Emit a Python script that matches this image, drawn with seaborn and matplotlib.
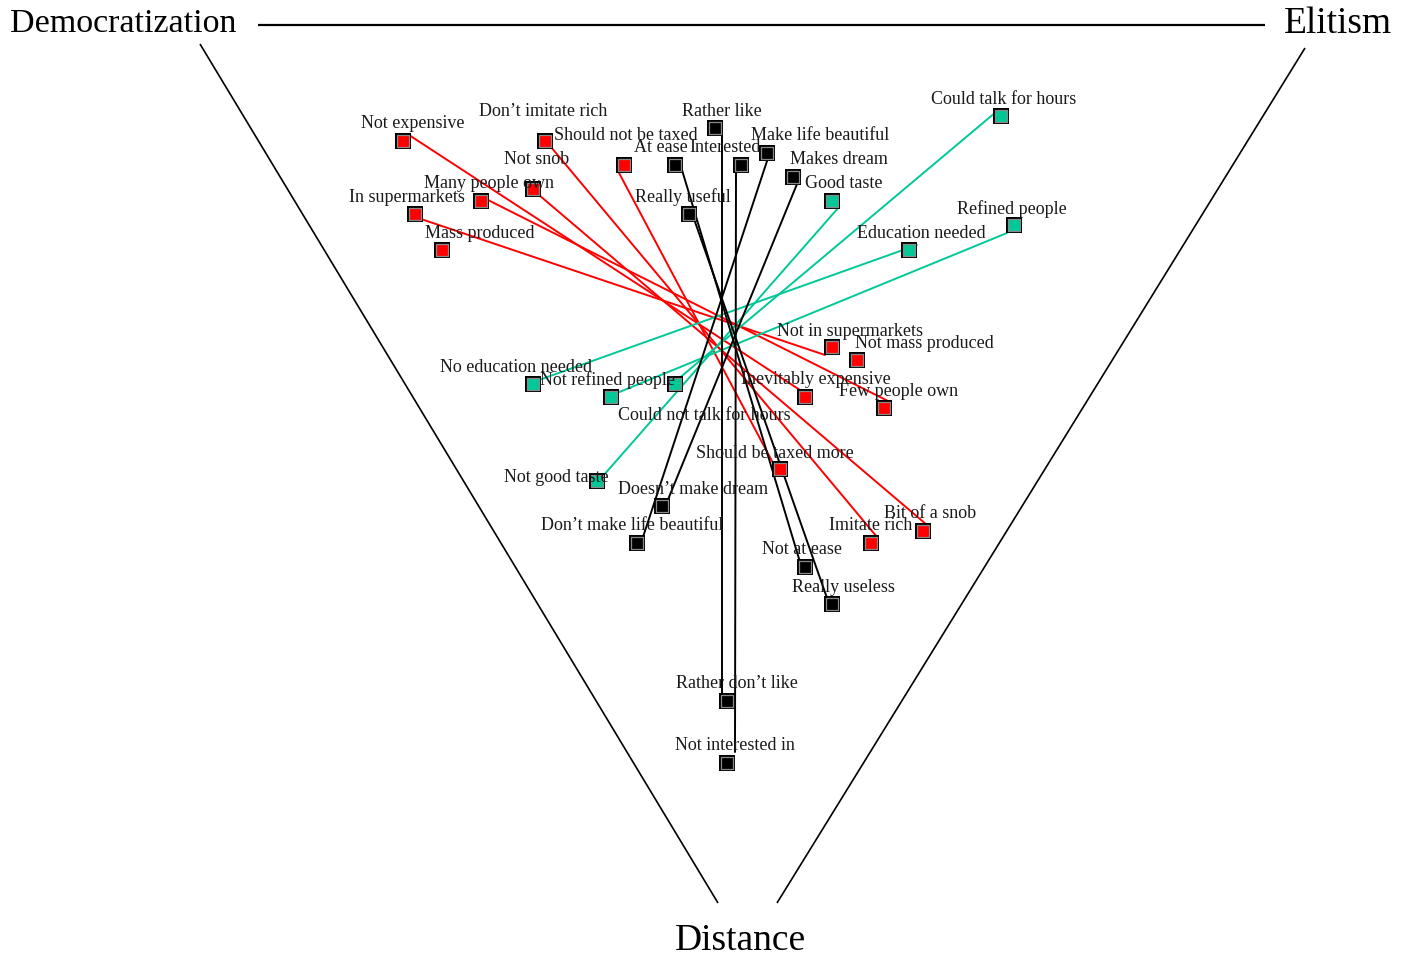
import matplotlib
matplotlib.use("Agg")
import matplotlib.pyplot as plt
import numpy as np
import pandas as pd
import seaborn as sns

# ---------------- data ----------------
labels = [
    "Not expensive", "Don\u2019t imitate rich", "Should not be taxed", "Not snob",
    "Many people own", "In supermarkets", "Mass produced", "Not in supermarkets",
    "Not mass produced", "Inevitably expensive", "Few people own",
    "Should be taxed more", "Imitate rich", "Bit of a snob",
    "Could talk for hours", "Good taste", "Refined people", "Education needed",
    "No education needed", "Not refined people", "Could not talk for hours",
    "Not good taste",
    "Rather like", "At ease", "Interested", "Make life beautiful", "Makes dream",
    "Really useful", "Doesn\u2019t make dream", "Don\u2019t make life beautiful",
    "Not at ease", "Really useless", "Rather don\u2019t like", "Not interested in",
]
groups = (["Democratization"] * 14) + (["Elitism"] * 8) + (["Distance"] * 12)

# displayed square markers
x = [-3.22, -1.80, -1.01, -1.92, -2.44, -3.10, -2.83, 1.07, 1.32, 0.80, 1.59, 0.55, 1.46, 1.98,
     2.76, 1.07, 2.89, 1.84, -1.92, -1.14, -0.50, -1.28,
     -0.10, -0.50, 0.16, 0.42, 0.68, -0.36, -0.63, -0.88, 0.80, 1.07, 0.02, 0.02]
y = [1.79, 1.79, 1.55, 1.31, 1.19, 1.06, 0.70, -0.27, -0.40, -0.77, -0.88, -1.49, -2.23, -2.11,
     2.04, 1.19, 0.95, 0.70, -0.64, -0.77, -0.64, -1.61,
     1.92, 1.55, 1.55, 1.67, 1.43, 1.06, -1.86, -2.23, -2.47, -2.84, -3.81, -4.43]

# coordinates used by the connecting lines
line_x = [-3.16, -1.74, -1.07, -1.86, -2.39, -3.04, -2.83, 1.00, 1.32, 0.78, 1.65, 0.48, 1.52, 2.02,
          2.71, 1.14, 2.82, 1.92, -1.86, -1.08, -0.48, -1.22,
          -0.03, -0.43, 0.11, 0.43, 0.72, -0.31, -0.58, -0.83, 0.75, 1.02, -0.03, 0.10]
line_y = [1.85, 1.73, 1.49, 1.25, 1.21, 1.01, 0.70, -0.35, -0.40, -0.72, -0.82, -1.43, -2.17, -2.05,
          2.08, 1.13, 0.87, 0.75, -0.60, -0.73, -0.60, -1.56,
          1.86, 1.50, 1.49, 1.62, 1.36, 1.01, -1.82, -2.20, -2.42, -2.78, -3.75, -4.32]

label_x = [-3.12, -1.82, -0.99, -1.88, -2.36, -3.18, -2.45, 1.25, 1.99, 0.91, 1.74, 0.50, 1.46, 2.05,
           2.79, 1.19, 2.87, 1.96, -2.09, -1.17, -0.21, -1.69,
           -0.03, -0.64, 0.00, 0.95, 1.14, -0.42, -0.32, -0.93, 0.77, 1.18, 0.12, 0.10]
label_y = [1.97, 2.09, 1.85, 1.61, 1.37, 1.23, 0.86, -0.12, -0.24, -0.60, -0.72, -1.34, -2.06, -1.94,
           2.21, 1.37, 1.11, 0.86, -0.48, -0.60, -0.96, -1.58,
           2.09, 1.73, 1.73, 1.85, 1.61, 1.23, -1.70, -2.06, -2.30, -2.68, -3.64, -4.26]

pair_from = ["Not expensive", "Many people own", "In supermarkets", "Don\u2019t imitate rich",
             "Should not be taxed", "Not snob",
             "Could talk for hours", "Refined people", "Education needed", "Good taste",
             "Rather like", "Interested", "At ease", "Really useful",
             "Make life beautiful", "Makes dream"]
pair_to = ["Inevitably expensive", "Few people own", "Not in supermarkets", "Imitate rich",
           "Should be taxed more", "Bit of a snob",
           "Could not talk for hours", "Not refined people", "No education needed", "Not good taste",
           "Rather don\u2019t like", "Not interested in", "Not at ease", "Really useless",
           "Don\u2019t make life beautiful", "Doesn\u2019t make dream"]

pole_names = ["Democratization", "Elitism", "Distance"]
pole_x = [-6.02, 6.13, 0.15]
pole_y = [2.96, 2.96, -6.21]

# frame: top bar and the two sides of the funnel
frame_x = [[-4.67, 5.40], [-5.25, -0.07], [5.80, 0.52]]
frame_y = [[2.95, 2.95], [2.76, -5.83], [2.72, -5.83]]

# ---------------- styling ----------------
palette = {"Democratization": "#ff0000", "Elitism": "#00c896", "Distance": "#000000"}

df = pd.DataFrame({"label": labels, "group": groups, "x": x, "y": y,
                   "px": line_x, "py": line_y, "lx": label_x, "ly": label_y})
pos = df.set_index("label")

sns.set_theme(style="white")
plt.rcParams["font.family"] = ["Liberation Serif", "DejaVu Serif"]

fig = plt.figure(figsize=(14.13, 9.56), dpi=100)
ax = fig.add_axes([0, 0, 1, 1])
ax.set_xlim(-7.25, 6.88)
ax.set_ylim(-6.36, 3.20)
ax.axis("off")

# frame
for fx, fy, lw in zip(frame_x, frame_y, [1.6, 1.2, 1.2]):
    ax.plot(fx, fy, color="black", lw=lw, solid_capstyle="butt", zorder=1)

# connecting lines between opposite modalities
seg_rows = []
for i, (a, b) in enumerate(zip(pair_from, pair_to)):
    g = pos.loc[a, "group"]
    seg_rows.append({"seg": i, "group": g, "x": pos.loc[a, "px"], "y": pos.loc[a, "py"]})
    seg_rows.append({"seg": i, "group": g, "x": pos.loc[b, "px"], "y": pos.loc[b, "py"]})
seg = pd.DataFrame(seg_rows)
sns.lineplot(data=seg, x="x", y="y", hue="group", units="seg", estimator=None, sort=False,
             palette=palette, lw=1.4, legend=False, ax=ax, zorder=2)

# markers: black outer square + coloured inner square with grey rim
sns.scatterplot(data=df, x="x", y="y", color="black", marker="s", s=135,
                linewidth=0, legend=False, ax=ax, zorder=3)
sns.scatterplot(data=df, x="x", y="y", hue="group", palette=palette, marker="s", s=82,
                edgecolor="#8a8a8a", linewidth=0.9, legend=False, ax=ax, zorder=4)

# labels
for _, r in df.iterrows():
    ax.text(r["lx"], r["ly"], r["label"], ha="center", va="center", fontsize=13,
            color="#1a1a1a", zorder=5)

# pole titles
for name, px, py, fs in zip(pole_names, pole_x, pole_y, [24.5, 27, 27]):
    ax.text(px, py, name, ha="center", va="center", fontsize=fs, color="black", zorder=5)

ax.set_xlabel("")
ax.set_ylabel("")
fig.savefig("out.png", dpi=100)
